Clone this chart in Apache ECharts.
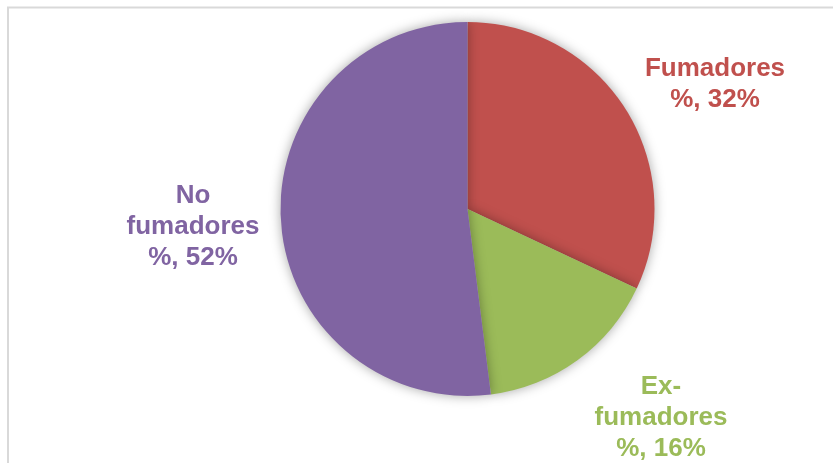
<!DOCTYPE html>
<html>
<head>
<meta charset="utf-8">
<script src="https://cdn.jsdelivr.net/npm/echarts@6/dist/echarts.min.js"></script>
<style>
  html, body { margin: 0; padding: 0; background: #fff; }
  #chart { width: 833px; height: 463px; }
</style>
</head>
<body>
<div id="chart"></div>
<script>
// Smoking status shares (%)
const categories = ['Fumadores', 'Ex-fumadores', 'No fumadores'];
const values = [32, 16, 52];
const colors = ['#C0504D', '#9BBB59', '#8064A2'];

// Label anchor points (px) for each slice's text block
const labelAnchors = [[715, 84], [661, 418], [193, 227]];

function wrapName(name) {
  return name.replace('-', '-\n').replace(' ', '\n');
}

const chart = echarts.init(document.getElementById('chart'), null, { renderer: 'canvas' });

chart.setOption({
  animation: false,
  graphic: [{
    // chart-area frame, running off the right and bottom edges
    type: 'rect',
    shape: { x: 8, y: 7.5, width: 900, height: 500 },
    style: { fill: 'none', stroke: '#d9d9d9', lineWidth: 2 },
    silent: true
  }],
  series: [{
    type: 'pie',
    center: [467.5, 209],
    radius: [0, 187],
    startAngle: 90,
    clockwise: true,
    data: categories.map((c, i) => ({
      name: c,
      value: values[i],
      itemStyle: { color: colors[i] },
      label: { color: colors[i] }
    })),
    itemStyle: {
      borderWidth: 0,
      shadowBlur: 12,
      shadowColor: 'rgba(0,0,0,0.35)'
    },
    label: {
      show: true,
      position: 'outside',
      formatter: p => wrapName(p.name) + '\n%, ' + p.value + '%',
      fontFamily: 'Liberation Sans, Arial, sans-serif',
      fontWeight: 'bold',
      fontSize: 26,
      lineHeight: 31,
      align: 'center'
    },
    labelLine: { show: false },
    labelLayout: p => ({
      x: labelAnchors[p.dataIndex][0],
      y: labelAnchors[p.dataIndex][1],
      align: 'center',
      verticalAlign: 'middle'
    })
  }]
});
</script>
</body>
</html>
